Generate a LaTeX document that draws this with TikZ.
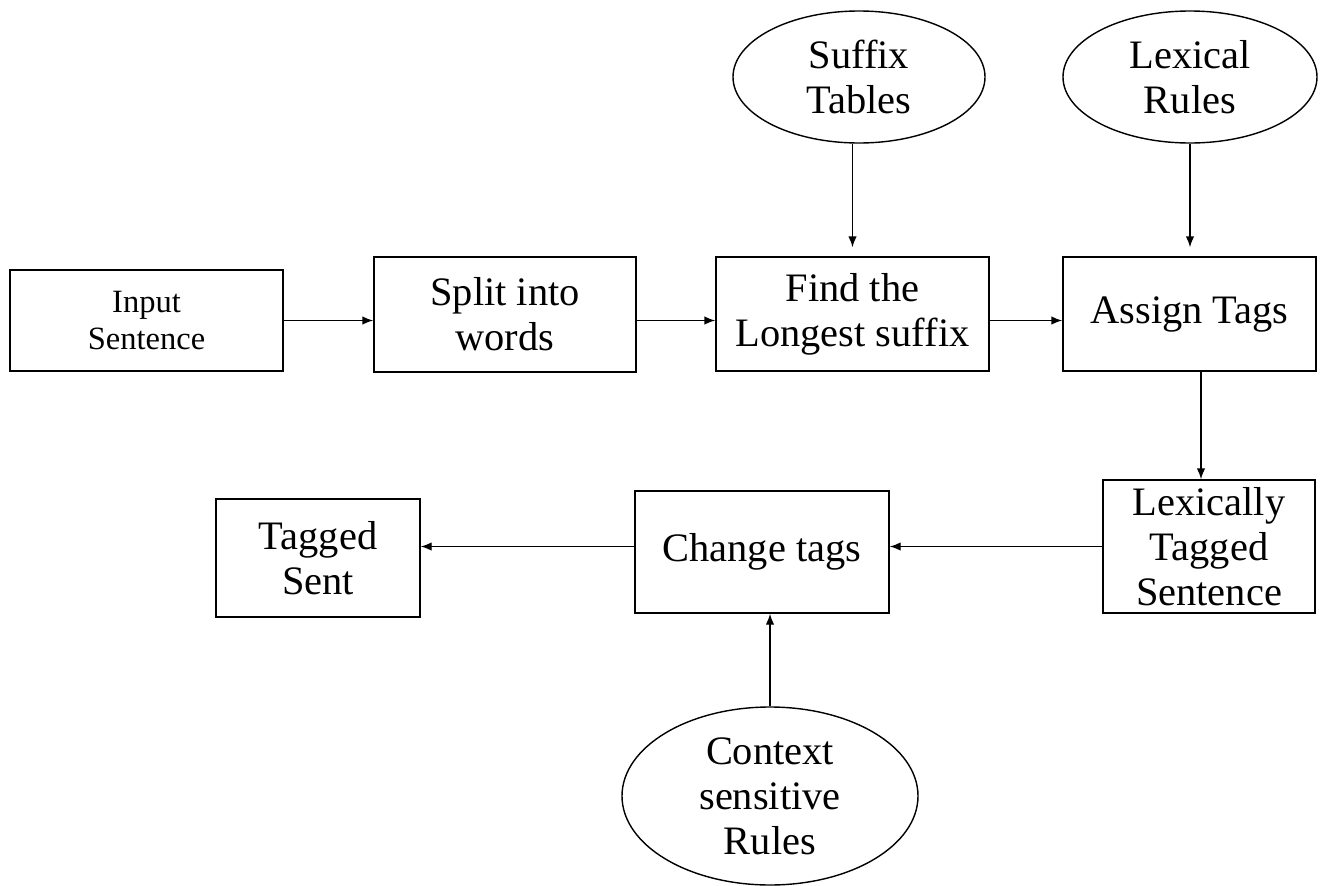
\documentclass[tikz,border=0pt]{standalone}
\usepackage{fontspec}
\setmainfont{Liberation Serif}
\usepackage{tikz}
\usetikzlibrary{shapes.geometric, positioning, arrows.meta}

\begin{document}
\begin{tikzpicture}[
    line width=0.8pt,
    block/.style={draw, rectangle, inner sep=0pt, align=center,
        font=\fontsize{23}{25.6}\selectfont},
    store/.style={draw, ellipse, inner xsep=0pt, inner ysep=-0.4cm, align=center,
        font=\fontsize{23}{25.6}\selectfont},
    flow/.style={-{Latex[length=0.22cm, width=0.17cm]}}
]
    \useasboundingbox (0,0) rectangle (26.4,-17.72);

    % Top row: processing steps
    \node[block, minimum width=5.46cm, minimum height=2.02cm,
          font=\fontsize{18.5}{21}\selectfont] (inp) at (2.93,-6.41) {Input\\Sentence};
    \node[block, minimum width=5.24cm, minimum height=2.30cm] (split) at (10.10,-6.29) {Split into\\words};
    \node[block, minimum width=5.46cm, minimum height=2.28cm] (find) at (17.05,-6.28) {Find the\\Longest suffix};
    \node[block, minimum width=5.06cm, minimum height=2.28cm] (assign) at (23.79,-6.28) {Assign Tags};

    % Resources feeding the top row
    \node[store, minimum width=5.04cm, minimum height=2.64cm] (suffix) at (17.18,-1.54) {Suffix\\Tables};
    \node[store, minimum width=5.08cm, minimum height=2.64cm] (lexrules) at (23.80,-1.54) {Lexical\\Rules};

    % Bottom row, running right to left
    \node[block, minimum width=4.24cm, minimum height=2.66cm] (lextagged) at (24.18,-10.93) {Lexically\\Tagged\\Sentence};
    \node[block, minimum width=5.08cm, minimum height=2.44cm] (change) at (15.24,-11.04) {Change tags};
    \node[block, minimum width=4.08cm, minimum height=2.36cm] (tagged) at (6.36,-11.16) {Tagged\\Sent};

    % Contextual rules under the bottom row
    \node[store, minimum width=5.92cm, minimum height=3.56cm] (context) at (15.40,-15.92) {Context\\sensitive\\Rules};

    % Connections along the top row
    \draw[flow] (inp.east) -- (split.west |- inp.east);
    \draw[flow] (split.east |- inp.east) -- (find.west |- inp.east);
    \draw[flow] (find.east |- inp.east) -- (assign.west |- inp.east);

    % Resources into the steps
    \draw[flow, shorten >=0.18cm] (suffix.south -| find.north) -- (find.north);
    \draw[flow, shorten >=0.18cm] (lexrules.south) -- (assign.north -| lexrules.south);

    % Down and back along the bottom row
    \draw[flow] (assign.south -| 24.02,0) -- (lextagged.north -| 24.02,0);
    \draw[flow] (lextagged.west) -- (change.east |- lextagged.west);
    \draw[flow] (change.west |- lextagged.west) -- (tagged.east |- lextagged.west);
    \draw[flow] (context.north) -- (change.south -| context.north);

\end{tikzpicture}
\end{document}
